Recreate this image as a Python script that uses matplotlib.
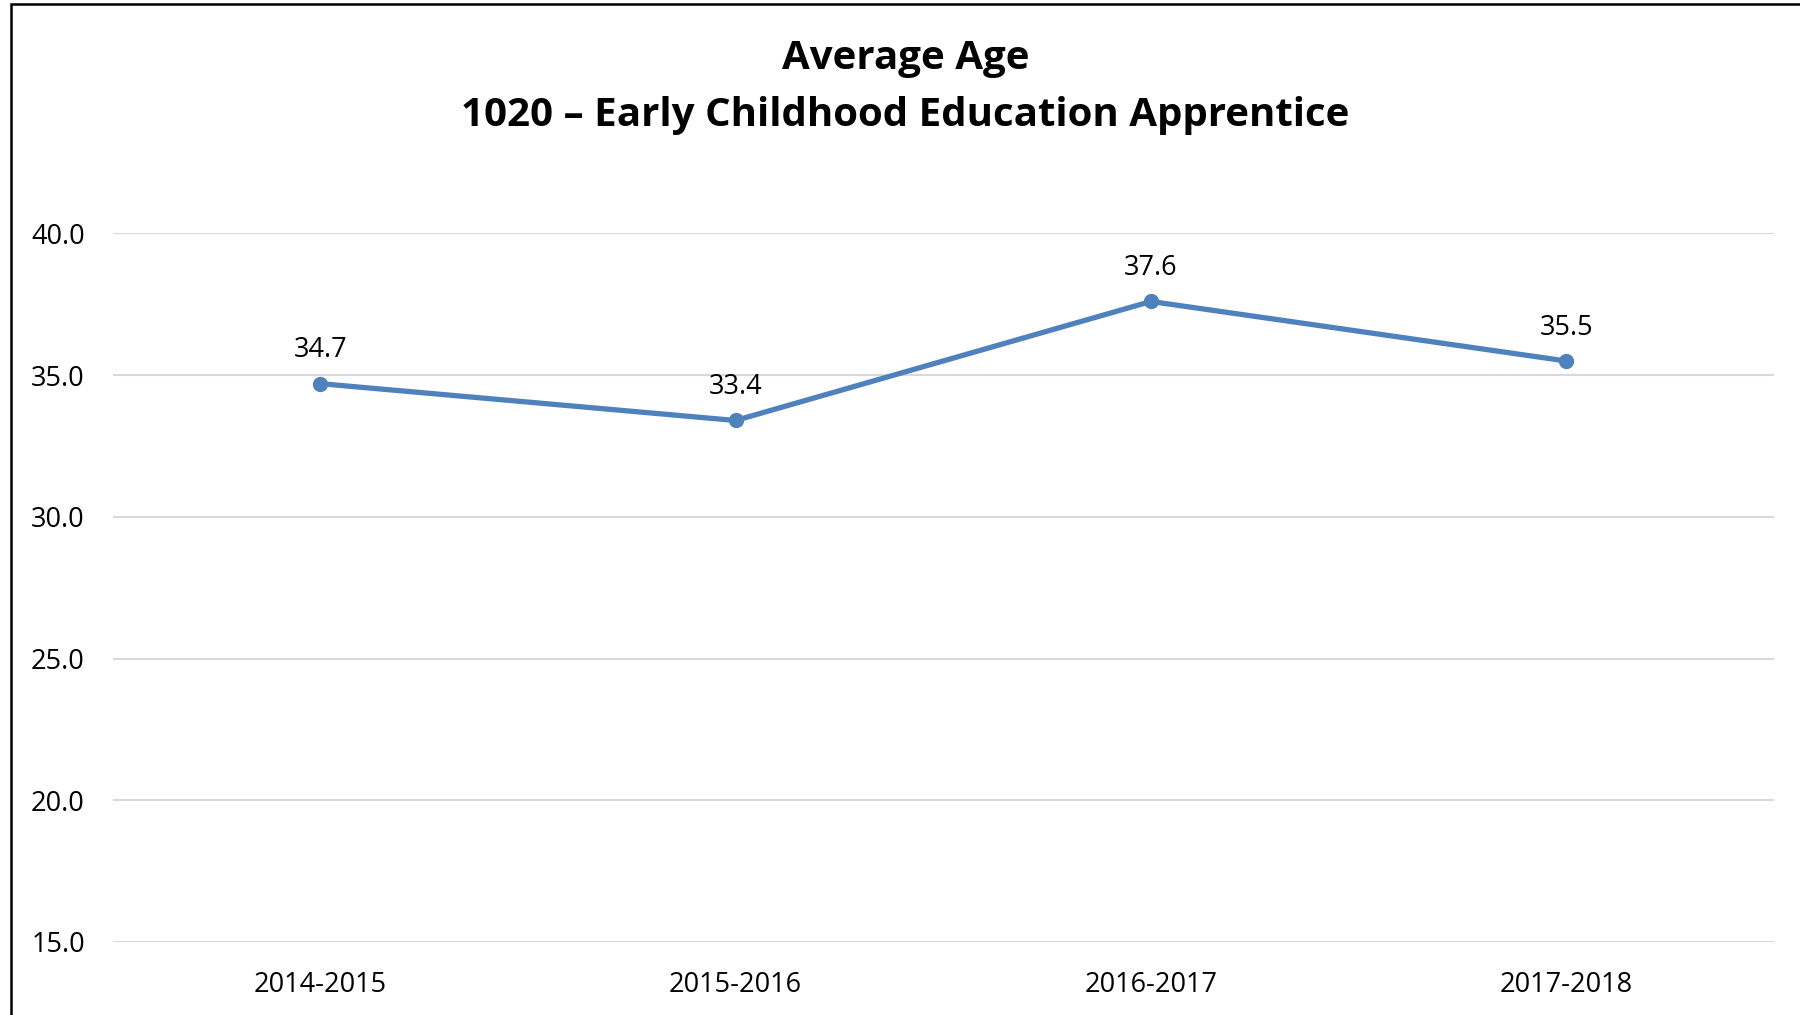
import matplotlib
matplotlib.use("Agg")
import matplotlib.pyplot as plt
from matplotlib.patches import Rectangle

# chart data
years = ['2014-2015', '2015-2016', '2016-2017', '2017-2018']
avg_age = [34.7, 33.4, 37.6, 35.5]
y_ticks = [15.0, 20.0, 25.0, 30.0, 35.0, 40.0]

plt.rcParams['font.family'] = ['Open Sans', 'DejaVu Sans']

fig = plt.figure(figsize=(18, 10.15), dpi=100)
ax = fig.add_axes([0.0625, 0.072, 0.923, 0.698])

x = list(range(len(years)))
ax.plot(x, avg_age, color='#4F81BD', linewidth=3.8, marker='o', markersize=10,
        markerfacecolor='#4F81BD', markeredgecolor='#4F81BD', zorder=3)

for xi, v in zip(x, avg_age):
    ax.annotate('%.1f' % v, (xi, v), xytext=(0, 14), textcoords='offset points',
                ha='center', va='bottom', fontsize=19.5, color='#000000')

ax.set_xlim(-0.5, len(years) - 0.5)
ax.set_ylim(15, 40)
ax.set_yticks(y_ticks)
ax.set_yticklabels(['%.1f' % t for t in y_ticks])
ax.set_xticks(x)
ax.set_xticklabels(years)
ax.tick_params(axis='both', length=0, labelsize=19.5, colors='#000000')
ax.tick_params(axis='y', pad=20)
ax.tick_params(axis='x', pad=21)
ax.grid(axis='y', color='#D9D9D9', linewidth=1.5)
ax.set_axisbelow(True)
for s in ax.spines.values():
    s.set_visible(False)

fig.text(0.503, 0.942, 'Average Age', ha='center', va='center',
         fontsize=29, fontweight='bold')
fig.text(0.503, 0.886, '1020 \u2013 Early Childhood Education Apprentice', ha='center',
         va='center', fontsize=29, fontweight='bold')

# chart border (cropped at right and bottom)
fig.patches.append(Rectangle((0.006, -0.05), 1.05, 1.046, transform=fig.transFigure,
                             fill=False, edgecolor='#000000', linewidth=1.8))

fig.savefig('out.png', dpi=100)
